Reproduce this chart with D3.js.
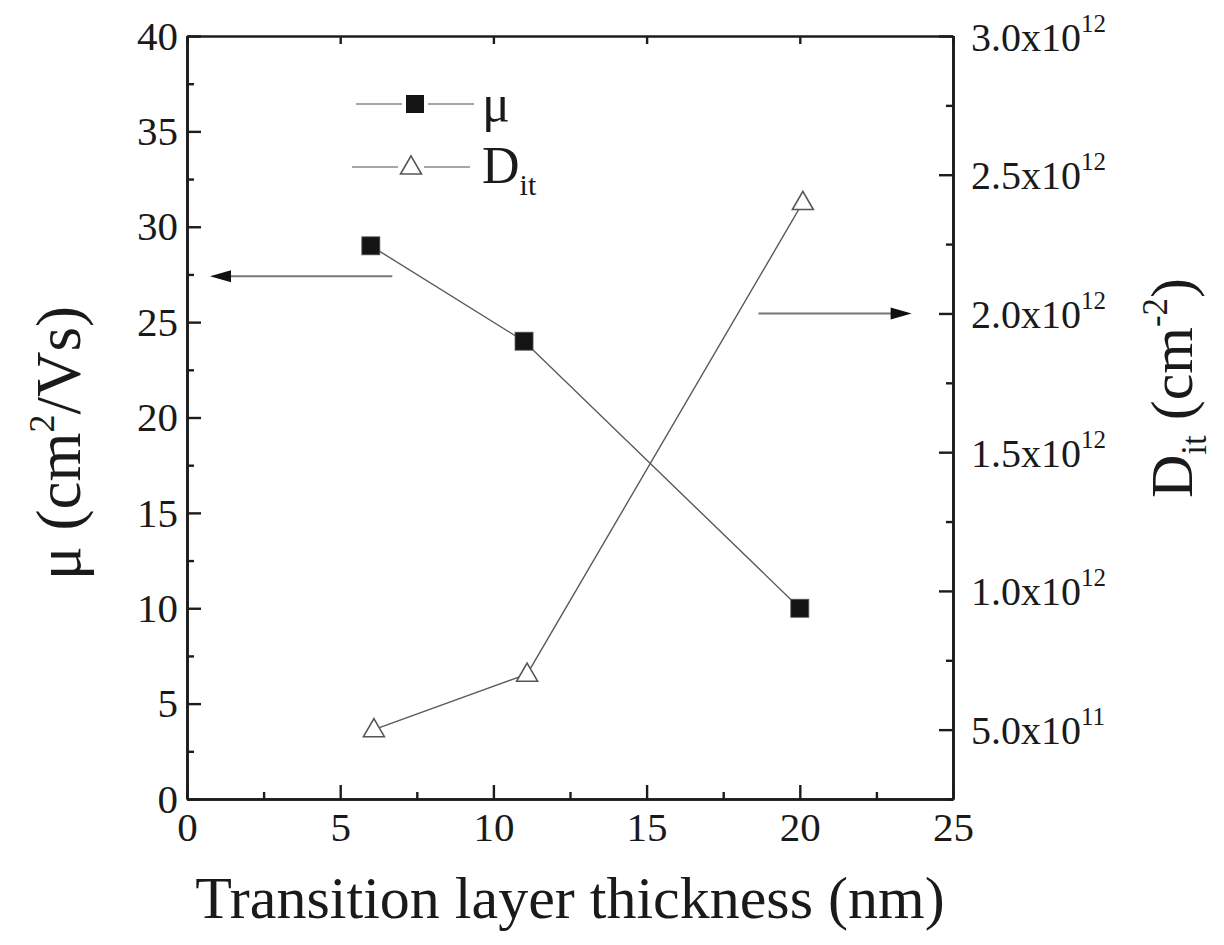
<!DOCTYPE html>
<meta charset="utf-8">
<html>
<head>
    <title>Transition layer thickness</title>
    <script type="text/javascript" src="https://cdn.jsdelivr.net/npm/d3@7/dist/d3.min.js"></script>
    <style type="text/css">
    	html, body {
    		padding: 0px;
    		margin: 0px;
    		background: #fff;
    	}
    </style>
</head>
<body>
	<svg id="svg"></svg>
	<script type="text/javascript">
		// data
		var thickness = [6, 11, 20]
		var mobility = [29, 24, 10]
		var ditThickness = [6.1, 11.1, 20.1]
		var dit = [5.0e11, 7.0e11, 2.4e12]
		var xTicks = [0, 5, 10, 15, 20, 25]
		var muTicks = [0, 5, 10, 15, 20, 25, 30, 35, 40]
		var ditTicks = [5e11, 1e12, 1.5e12, 2e12, 2.5e12, 3e12]
		// arrows: which axis each series belongs to
		var arrows = [
		  { axis: "mu", value: 27.4, from: 6.7, to: 0.75 },
		  { axis: "dit", value: 2.0e12, from: 18.65, to: 23.65 }
		]

		var W = 1224
		var H = 945
		var plotL = 187, plotR = 953, plotT = 36, plotB = 799
		var axisColor = "#1c1c1c"
		var lineColor = "#5a5a5a"
		var serif = '"Liberation Serif", "Times New Roman", serif'

		var svg = d3.select('svg').attr('width', W).attr('height', H)
		  .attr("font-family", serif)

		var x = d3.scaleLinear().domain([0, 25]).range([plotL, plotR])
		var yMu = d3.scaleLinear().domain([0, 40]).range([plotB, plotT])
		var yDit = d3.scaleLinear().domain([2.5e11, 3e12]).range([plotB, plotT])

		// minor ticks in between the majors
		function minors(ticks) {
		  var out = []
		  for (var i = 0; i < ticks.length - 1; i++) out.push((ticks[i] + ticks[i + 1]) / 2)
		  return out
		}

		var axes = svg.append("g").attr("class", "axes")

		// bottom
		axes.append("g").attr("transform", "translate(0," + plotB + ")")
		  .call(d3.axisBottom(x).tickValues(xTicks).tickSize(-14).tickSizeOuter(0).tickPadding(13).tickFormat(d3.format("d")))
		axes.append("g").attr("transform", "translate(0," + plotB + ")")
		  .call(d3.axisBottom(x).tickValues(minors(xTicks)).tickSize(-7).tickSizeOuter(0).tickFormat(""))
		// top
		axes.append("g").attr("transform", "translate(0," + plotT + ")")
		  .call(d3.axisTop(x).tickValues(xTicks).tickSize(-8).tickSizeOuter(0).tickFormat(""))
		// left
		axes.append("g").attr("transform", "translate(" + plotL + ",0)")
		  .call(d3.axisLeft(yMu).tickValues(muTicks).tickSize(-14).tickSizeOuter(0).tickPadding(9).tickFormat(d3.format("d")))
		axes.append("g").attr("transform", "translate(" + plotL + ",0)")
		  .call(d3.axisLeft(yMu).tickValues(minors(muTicks)).tickSize(-7).tickSizeOuter(0).tickFormat(""))
		// right
		var rightAxis = axes.append("g").attr("transform", "translate(" + plotR + ",0)")
		  .call(d3.axisRight(yDit).tickValues(ditTicks).tickSize(-14).tickSizeOuter(0).tickFormat(""))
		axes.append("g").attr("transform", "translate(" + plotR + ",0)")
		  .call(d3.axisRight(yDit).tickValues([2.5e11].concat(minors(ditTicks))).tickSize(-7).tickSizeOuter(0).tickFormat(""))

		axes.selectAll("g").attr("font-family", serif).attr("font-size", null)
		axes.selectAll("path.domain").attr("stroke", axisColor).attr("stroke-width", 2.6)
		axes.selectAll(".tick line").attr("stroke", axisColor).attr("stroke-width", 2.4)
		axes.selectAll(".tick text").style("font-size", "41px").attr("fill", axisColor)

		// right labels like 3.0x10^12
		rightAxis.selectAll(".tick").each(function (d) {
		  var e = Math.floor(Math.log10(d))
		  var m = d / Math.pow(10, e)
		  var t = d3.select(this).append("text")
		    .attr("x", 18).attr("y", 14).attr("fill", axisColor)
		    .style("font-size", "40px").attr("text-anchor", "start")
		  t.append("tspan").text(m.toFixed(1) + "x10")
		  t.append("tspan").style("font-size", "25px").attr("dy", -19).text(e)
		})

		// series lines
		var muLine = d3.line().x(function (d) { return x(d[0]) }).y(function (d) { return yMu(d[1]) })
		var ditLine = d3.line().x(function (d) { return x(d[0]) }).y(function (d) { return yDit(d[1]) })
		var muData = thickness.map(function (t, i) { return [t, mobility[i]] })
		var ditData = ditThickness.map(function (t, i) { return [t, dit[i]] })

		var plot = svg.append("g").attr("class", "series")
		plot.append("path").datum(muData).attr("d", muLine)
		  .attr("fill", "none").attr("stroke", lineColor).attr("stroke-width", 1.4)
		plot.append("path").datum(ditData).attr("d", ditLine)
		  .attr("fill", "none").attr("stroke", lineColor).attr("stroke-width", 1.4)

		var tri = d3.symbol().type(d3.symbolTriangle).size(190)
		plot.selectAll("rect.mu").data(muData).enter().append("rect")
		  .attr("class", "mu")
		  .attr("x", function (d) { return x(d[0]) - 9 })
		  .attr("y", function (d) { return yMu(d[1]) - 9 })
		  .attr("width", 18).attr("height", 18)
		  .attr("fill", "#141414").attr("stroke", "#555").attr("stroke-width", 0.8)
		plot.selectAll("path.dit").data(ditData).enter().append("path")
		  .attr("class", "dit")
		  .attr("d", tri)
		  .attr("transform", function (d) { return "translate(" + x(d[0]) + "," + (yDit(d[1]) + 1) + ")" })
		  .attr("fill", "#fff").attr("stroke", "#555").attr("stroke-width", 1.6)

		// arrows pointing to each axis
		var arrowG = svg.append("g").attr("class", "arrows")
		arrows.forEach(function (a) {
		  var yy = a.axis == "mu" ? yMu(a.value) : yDit(a.value)
		  var x0 = x(a.from), x1 = x(a.to)
		  var dir = x1 > x0 ? 1 : -1
		  arrowG.append("line")
		    .attr("x1", x0).attr("y1", yy).attr("x2", x1 - dir * 18).attr("y2", yy)
		    .attr("stroke", "#777").attr("stroke-width", 2)
		  arrowG.append("path")
		    .attr("d", "M" + x1 + "," + yy + "L" + (x1 - dir * 21) + "," + (yy - 6) + "L" + (x1 - dir * 21) + "," + (yy + 6) + "Z")
		    .attr("fill", "#111")
		})

		// legend
		var legend = svg.append("g").attr("class", "legend")
		var l1 = legend.append("g").attr("transform", "translate(356,104)")
		l1.append("line").attr("x1", 0).attr("x2", 46).attr("stroke", "#888").attr("stroke-width", 1.6)
		l1.append("line").attr("x1", 72).attr("x2", 118).attr("stroke", "#888").attr("stroke-width", 1.6)
		l1.append("rect").attr("x", 50).attr("y", -9).attr("width", 18).attr("height", 18).attr("fill", "#141414")
		l1.append("text").attr("x", 126).attr("y", 17).style("font-size", "52px").text("μ")
		var l2 = legend.append("g").attr("transform", "translate(352,167)")
		l2.append("line").attr("x1", 0).attr("x2", 46).attr("stroke", "#888").attr("stroke-width", 1.6)
		l2.append("line").attr("x1", 72).attr("x2", 118).attr("stroke", "#888").attr("stroke-width", 1.6)
		l2.append("path").attr("d", tri).attr("transform", "translate(59,1)")
		  .attr("fill", "#fff").attr("stroke", "#555").attr("stroke-width", 1.6)
		var dt = l2.append("text").attr("x", 130).attr("y", 16).style("font-size", "52px")
		dt.append("tspan").text("D")
		dt.append("tspan").style("font-size", "30px").attr("dy", 12).text("it")

		// axis titles
		svg.append("text")
		  .attr("x", (plotL + plotR) / 2).attr("y", 918)
		  .attr("text-anchor", "middle").style("font-size", "60px")
		  .text("Transition layer thickness (nm)")

		var yt = svg.append("text")
		  .attr("transform", "translate(80,443) rotate(-90)")
		  .attr("text-anchor", "middle").style("font-size", "63px")
		yt.append("tspan").text("μ (cm")
		yt.append("tspan").style("font-size", "36px").attr("dy", -26).text("2")
		yt.append("tspan").attr("dy", 26).text("/Vs)")

		var rt = svg.append("text")
		  .attr("transform", "translate(1192,388) rotate(-90)")
		  .attr("text-anchor", "middle").style("font-size", "60px")
		rt.append("tspan").text("D")
		rt.append("tspan").style("font-size", "35px").attr("dy", 14).text("it")
		rt.append("tspan").attr("dy", -14).text(" (cm")
		rt.append("tspan").style("font-size", "35px").attr("dy", -25).text("-2")
		rt.append("tspan").attr("dy", 25).text(")")

		// force the serif face on every label
		svg.selectAll("text").style("font-family", serif).attr("fill", "#1a1a1a")
	</script>
</body>
</html>
